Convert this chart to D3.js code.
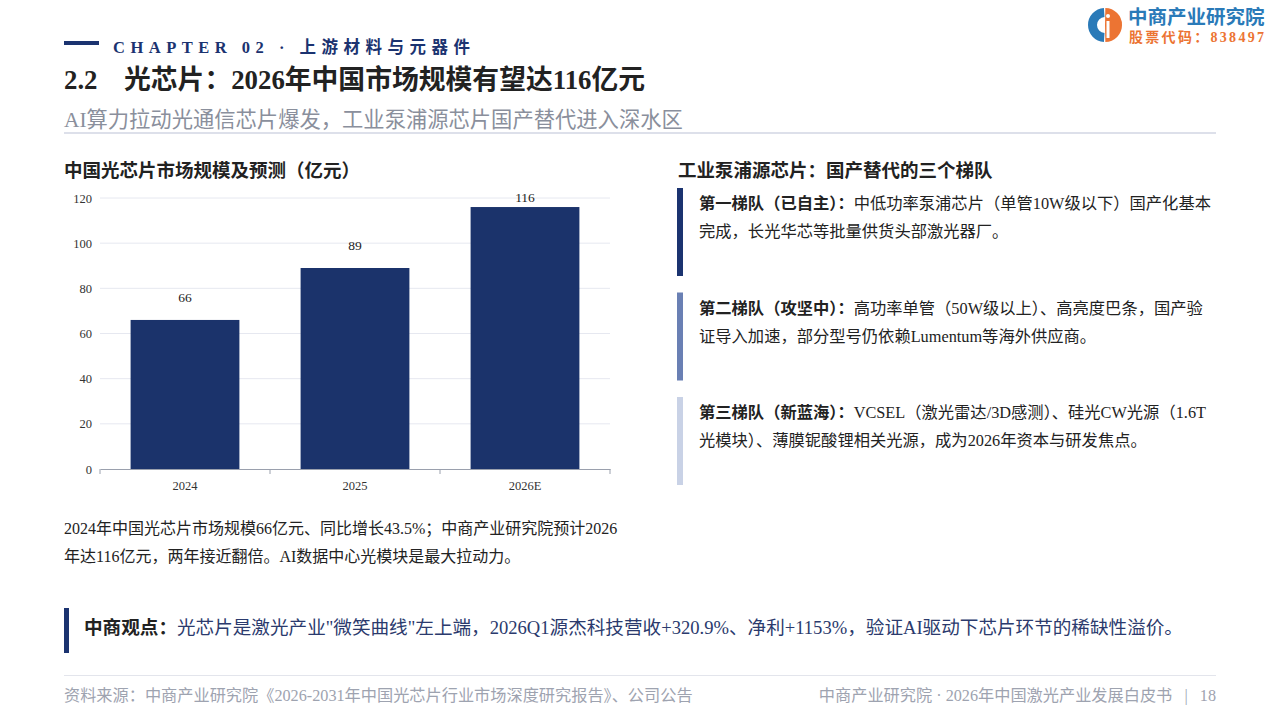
<!DOCTYPE html>
<html>
<head>
<meta charset="utf-8">
<script src="https://cdn.jsdelivr.net/npm/d3@7"></script>
<style>
  body { margin: 0; background: #fff; }
  svg { display: block; }
  text { font-family: "Liberation Serif", "Noto Sans CJK SC", serif; }
</style>
</head>
<body>
<svg id="page" width="1280" height="720"></svg>
<script>
// chart data
var years = ["2024", "2025", "2026E"];
var marketSize = [66, 89, 116];
var yTicks = [0, 20, 40, 60, 80, 100, 120];

// text blocks
var tierTitles = ["第一梯队（已自主）：", "第二梯队（攻坚中）：", "第三梯队（新蓝海）："];
var tierLines = [
    ["中低功率泵浦芯片（单管10W级以下）国产化基本", "完成，长光华芯等批量供货头部激光器厂。"],
    ["高功率单管（50W级以上）、高亮度巴条，国产验", "证导入加速，部分型号仍依赖Lumentum等海外供应商。"],
    ["VCSEL（激光雷达/3D感测）、硅光CW光源（1.6T", "光模块）、薄膜铌酸锂相关光源，成为2026年资本与研发焦点。"]
];
var tierColors = ["#1b3370", "#6a80b4", "#c9d2e6"];
var noteLines = [
    "2024年中国光芯片市场规模66亿元、同比增长43.5%；中商产业研究院预计2026",
    "年达116亿元，两年接近翻倍。AI数据中心光模块是最大拉动力。"
];

var navy = "#1b3370";
var svg = d3.select("#page");

// ---- header ----
svg.append("rect").attr("x", 64).attr("y", 41).attr("width", 35).attr("height", 4).attr("fill", navy);
svg.append("text")
    .attr("x", 113).attr("y", 53)
    .attr("font-size", 16.5).attr("font-weight", "bold")
    .attr("letter-spacing", 5.5)
    .attr("fill", navy)
    .text("CHAPTER 02 · 上游材料与元器件");

let title = svg.append("text")
    .attr("y", 89)
    .attr("font-size", 26.8).attr("font-weight", "bold")
    .attr("fill", "#222");
title.append("tspan").attr("x", 64).text("2.2");
title.append("tspan").attr("x", 124).text("光芯片：2026年中国市场规模有望达116亿元");

svg.append("text")
    .attr("x", 64).attr("y", 127)
    .attr("font-size", 21.3)
    .attr("fill", "#8a8f9c")
    .text("AI算力拉动光通信芯片爆发，工业泵浦源芯片国产替代进入深水区");

svg.append("rect").attr("x", 64).attr("y", 132).attr("width", 1152).attr("height", 2).attr("fill", "#dde0ea");

// ---- logo ----
var logo = svg.append("g").attr("transform", "translate(1105,25)");
logo.append("path")
    .attr("d", d3.arc()({innerRadius: 8, outerRadius: 17, startAngle: Math.PI * 1.02, endAngle: Math.PI * 1.98}))
    .attr("fill", "#2a7ab8");
logo.append("path")
    .attr("d", d3.arc()({innerRadius: 0, outerRadius: 17, startAngle: 0.02, endAngle: Math.PI - 0.02}))
    .attr("fill", "#ec7433");
logo.append("rect").attr("x", 1.5).attr("y", -4).attr("width", 3).attr("height", 17).attr("fill", "#fff");
logo.append("circle").attr("cx", 3).attr("cy", -9).attr("r", 2).attr("fill", "#fff");
svg.append("text")
    .attr("x", 1128).attr("y", 24)
    .attr("font-size", 19.5).attr("font-weight", "bold")
    .attr("font-family", "Noto Sans CJK SC")
    .attr("fill", "#2a7ab8")
    .text("中商产业研究院");
svg.append("text")
    .attr("x", 1129).attr("y", 42)
    .attr("font-size", 14).attr("font-weight", "bold")
    .attr("font-family", "Noto Sans CJK SC")
    .attr("letter-spacing", 2.3)
    .attr("fill", "#ec7433")
    .text("股票代码：838497");

// ---- bar chart ----
svg.append("text")
    .attr("x", 64).attr("y", 177)
    .attr("font-size", 18.5).attr("font-weight", "bold")
    .attr("fill", "#222")
    .text("中国光芯片市场规模及预测（亿元）");

var xScale = d3.scaleBand()
    .domain(years)
    .range([100, 610])
    .paddingInner(0.36)
    .paddingOuter(0.18);

var yScale = d3.scaleLinear()
    .domain([0, 120])
    .range([469, 198]);

// grid
svg.append("g").selectAll("line")
    .data(yTicks.filter(function(d) { return d > 0; }))
    .enter().append("line")
    .attr("x1", 100).attr("x2", 610)
    .attr("y1", function(d) { return yScale(d); })
    .attr("y2", function(d) { return yScale(d); })
    .attr("stroke", "#e6e8f0").attr("stroke-width", 1);

// y axis labels
let yAxis = d3.axisLeft(yScale).tickValues(yTicks).tickSize(0).tickPadding(8);
let gy = svg.append("g").attr("transform", "translate(100,0)").call(yAxis);
gy.select(".domain").remove();
gy.selectAll("text")
    .attr("font-family", "Liberation Serif")
    .attr("font-size", 12.5).attr("fill", "#333");

// bars
svg.selectAll(".bar")
    .data(marketSize)
    .enter().append("rect")
    .attr("class", "bar")
    .attr("x", function(d, i) { return xScale(years[i]); })
    .attr("y", function(d) { return yScale(d); })
    .attr("width", xScale.bandwidth())
    .attr("height", function(d) { return yScale(0) - yScale(d); })
    .attr("fill", "#1b336b");

// value labels
svg.selectAll(".val")
    .data(marketSize)
    .enter().append("text")
    .attr("class", "val")
    .attr("x", function(d, i) { return xScale(years[i]) + xScale.bandwidth() / 2; })
    .attr("y", function(d) { return Math.max(yScale(d) - 18, 202); })
    .attr("text-anchor", "middle")
    .attr("font-size", 13.5).attr("fill", "#222")
    .text(function(d) { return d; });

// x axis, ticks on band boundaries
let xAxis = d3.axisBottom(xScale).tickSize(0).tickPadding(12);
let gx = svg.append("g").attr("transform", "translate(0,469)").call(xAxis);
gx.select(".domain").attr("stroke", "#9aa0ad");
gx.selectAll("text")
    .attr("font-family", "Liberation Serif")
    .attr("font-size", 12.5).attr("fill", "#333");
var bounds = [100].concat(years.map(function(y) { return xScale(y) + xScale.bandwidth() + xScale.step() * 0.18; }));
gx.selectAll(".bound")
    .data(bounds)
    .enter().append("line")
    .attr("class", "bound")
    .attr("x1", function(d) { return d; }).attr("x2", function(d) { return d; })
    .attr("y1", 0).attr("y2", 5)
    .attr("stroke", "#9aa0ad");

// note under chart
svg.selectAll(".note")
    .data(noteLines)
    .enter().append("text")
    .attr("class", "note")
    .attr("x", 64)
    .attr("y", function(d, i) { return 534 + i * 28; })
    .attr("font-size", 16).attr("fill", "#222")
    .text(function(d) { return d; });

// ---- right panel ----
svg.append("text")
    .attr("x", 678).attr("y", 177)
    .attr("font-size", 18.5).attr("font-weight", "bold")
    .attr("fill", "#222")
    .text("工业泵浦源芯片：国产替代的三个梯队");

var cards = svg.selectAll(".card")
    .data(tierTitles)
    .enter().append("g")
    .attr("class", "card")
    .attr("transform", function(d, i) { return "translate(677," + (188 + i * 104.5) + ")"; });

cards.append("rect")
    .attr("x", 0).attr("y", 0)
    .attr("width", 6).attr("height", 88)
    .attr("fill", function(d, i) { return tierColors[i]; });

cards.each(function(d, i) {
    let g = d3.select(this);
    let t1 = g.append("text")
        .attr("x", 22).attr("y", 21)
        .attr("font-size", 16.3).attr("fill", "#222");
    t1.append("tspan").attr("font-weight", "bold").text(d);
    t1.append("tspan").text(tierLines[i][0]);
    g.append("text")
        .attr("x", 22).attr("y", 49)
        .attr("font-size", 16.3).attr("fill", "#222")
        .text(tierLines[i][1]);
});

// ---- viewpoint ----
svg.append("rect").attr("x", 64).attr("y", 608).attr("width", 5).attr("height", 45).attr("fill", navy);
let vp = svg.append("text")
    .attr("x", 84).attr("y", 634)
    .attr("font-size", 18.6);
vp.append("tspan").attr("font-weight", "bold").attr("fill", "#222").text("中商观点：");
vp.append("tspan").attr("fill", "#2b3a6d")
    .text("光芯片是激光产业\"微笑曲线\"左上端，2026Q1源杰科技营收+320.9%、净利+1153%，验证AI驱动下芯片环节的稀缺性溢价。");

// ---- footer ----
svg.append("rect").attr("x", 64).attr("y", 675).attr("width", 1152).attr("height", 1).attr("fill", "#e3e5ec");
svg.append("text")
    .attr("x", 64).attr("y", 701)
    .attr("font-size", 16.2).attr("fill", "#9ea3b0")
    .text("资料来源：中商产业研究院《2026-2031年中国光芯片行业市场深度研究报告》、公司公告");
svg.append("text")
    .attr("x", 1216).attr("y", 701)
    .attr("text-anchor", "end")
    .attr("font-size", 16.2).attr("fill", "#9ea3b0")
    .attr("xml:space", "preserve")
    .text("中商产业研究院 · 2026年中国激光产业发展白皮书   |   18");
</script>
</body>
</html>
